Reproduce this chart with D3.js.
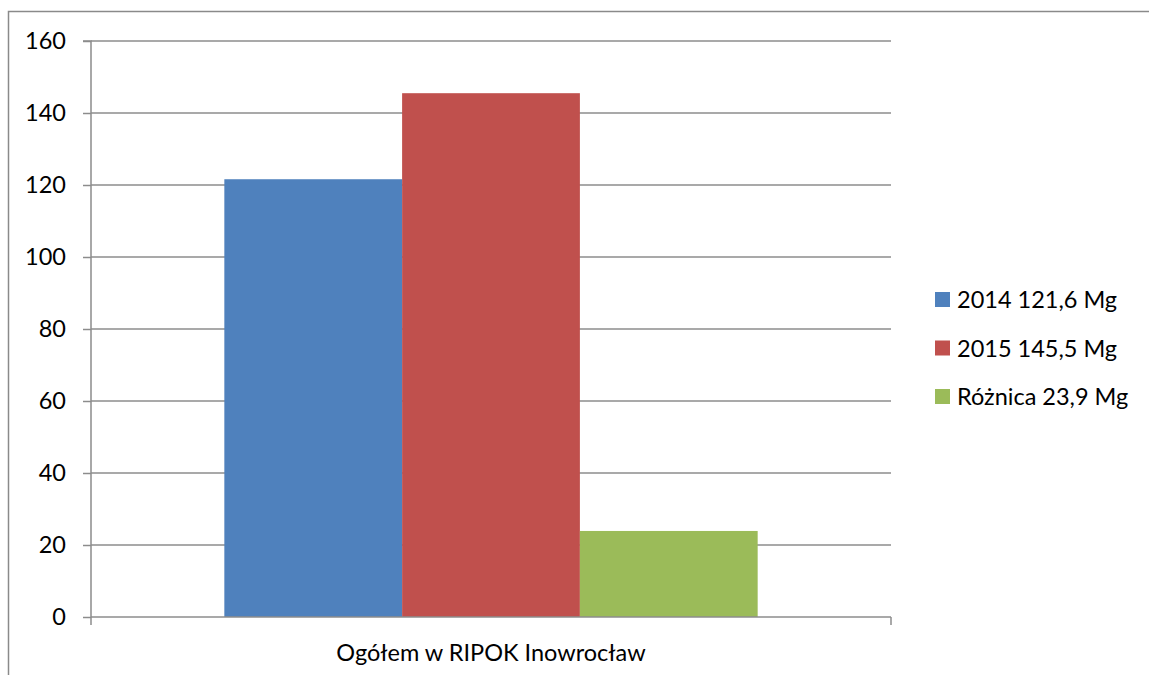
<!DOCTYPE html>
<html><head><meta charset="utf-8">
<script src="https://cdn.jsdelivr.net/npm/d3@7"></script>
<style>html,body{margin:0;background:#fff;overflow:hidden}svg{display:block}</style>
</head><body>
<script>
const categories = ["Ogółem w RIPOK Inowrocław"];
const seriesNames = ["2014 121,6 Mg", "2015 145,5 Mg", "Różnica 23,9 Mg"];
const seriesValues = [121.6, 145.5, 23.9];
const seriesColors = ["#4F81BD", "#C0504D", "#9BBB59"];
const yTicks = [0, 20, 40, 60, 80, 100, 120, 140, 160];

(function () {
const W = 1149, H = 675;
const font = "Lato, 'Open Sans', sans-serif";
const fs = 23.5;
const svg = d3.select("body").append("svg").attr("width", W).attr("height", H);

// outer chart border (only left/top visible)
svg.append("path").attr("d", `M8.5,${H}V11.5H${W}`)
  .attr("fill", "none").attr("stroke", "#8a8a8a").attr("stroke-width", 1.5);

const pL = 91, pR = 891, pT = 41, pB = 617;
const y = d3.scaleLinear().domain([0, 160]).range([pB, pT]);
const x0 = d3.scaleBand().domain(categories).range([pL, pR]).paddingInner(0).paddingOuter(0);
const x1 = d3.scaleBand().domain(seriesNames).range([0, x0.bandwidth() / 1.5]).padding(0);
const groupOffset = (x0.bandwidth() - x0.bandwidth() / 1.5) / 2;

// gridlines
svg.append("g").selectAll("line").data(yTicks.filter(d => d > 0)).join("line")
  .attr("x1", pL).attr("x2", pR).attr("y1", d => y(d)).attr("y2", d => y(d))
  .attr("stroke", "#8c8c8c").attr("stroke-width", 1.5);

// bars
const g = svg.append("g");
categories.forEach(c => {
  g.selectAll("rect.b").data(seriesValues).join("rect").attr("class", "b")
    .attr("x", (d, i) => x0(c) + groupOffset + x1(seriesNames[i]))
    .attr("width", x1.bandwidth())
    .attr("y", d => y(d)).attr("height", d => y(0) - y(d))
    .attr("fill", (d, i) => seriesColors[i]);
});

// y axis
const yAxis = d3.axisLeft(y).tickValues(yTicks).tickSize(8).tickPadding(17).tickFormat(d3.format("d"));
const ya = svg.append("g").attr("transform", `translate(${pL},0)`).call(yAxis);
ya.select(".domain").attr("stroke", "#8c8c8c").attr("stroke-width", 1.5).attr("d", `M-8,${pT}H0V${pB}`);
ya.selectAll(".tick line").attr("stroke", "#8c8c8c").attr("stroke-width", 1.5);
ya.selectAll(".tick text").attr("font-family", font).attr("font-size", fs).attr("fill", "#000");

// x axis
const xa = svg.append("g").attr("transform", `translate(0,${pB})`);
xa.append("line").attr("x1", pL).attr("x2", pR).attr("y1", 0).attr("y2", 0)
  .attr("stroke", "#8c8c8c").attr("stroke-width", 1.5);
[pL, pR].forEach(px => xa.append("line").attr("x1", px).attr("x2", px).attr("y1", 0).attr("y2", 8)
  .attr("stroke", "#8c8c8c").attr("stroke-width", 1.5));
xa.selectAll("text.cat").data(categories).join("text").attr("class", "cat")
  .attr("x", d => x0(d) + x0.bandwidth() / 2).attr("y", 44)
  .attr("text-anchor", "middle").attr("font-family", font).attr("font-size", fs).attr("fill", "#000")
  .text(d => d);

// legend
const lg = svg.append("g");
const rows = lg.selectAll("g").data(seriesNames).join("g")
  .attr("transform", (d, i) => `translate(935,${299.5 + i * 48.5})`);
rows.append("rect").attr("x", 0).attr("y", -7.5).attr("width", 15).attr("height", 15)
  .attr("fill", (d, i) => seriesColors[i]);
rows.append("text").attr("x", 22).attr("y", 8.5).attr("font-family", font).attr("font-size", fs)
  .attr("fill", "#000").text(d => d);
})();
</script>
</body></html>
